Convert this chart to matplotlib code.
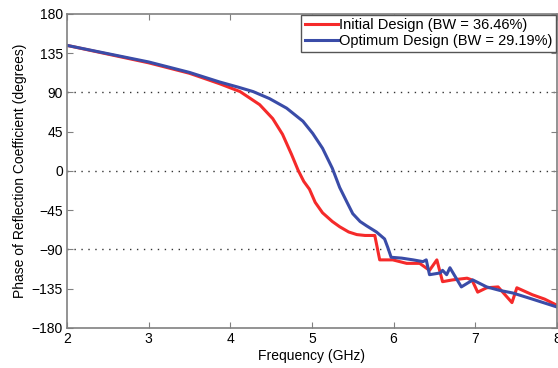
import matplotlib
matplotlib.use("Agg")
import matplotlib.pyplot as plt

plt.rcParams['font.family'] = ['Liberation Sans', 'DejaVu Sans']

# Initial design (red)
freq_init = [2.0, 2.5, 3.0, 3.5, 3.87, 4.12, 4.36, 4.52, 4.64, 4.75, 4.83,
             4.90, 4.97, 5.04, 5.13, 5.25, 5.34, 5.45, 5.55, 5.65, 5.77, 5.80,
             5.83, 5.99, 6.16, 6.32, 6.44, 6.53, 6.60, 6.72, 6.90, 6.96, 7.03,
             7.14, 7.28, 7.45, 7.51, 7.70, 7.85, 8.0]
phase_init = [144, 134, 124, 112, 100, 91, 76, 60, 42, 19, 1,
              -12, -21, -36, -48, -58, -64, -70, -73, -74, -74, -88,
              -102, -102, -106, -106, -114, -102, -127, -125, -123, -125, -139,
              -134, -133, -151, -134, -142, -147, -154]

# Optimum design (blue)
freq_opt = [2.0, 2.5, 3.0, 3.5, 3.87, 4.1, 4.28, 4.48, 4.69, 4.89, 5.01,
            5.13, 5.25, 5.34, 5.43, 5.50, 5.59, 5.67, 5.79, 5.89, 5.93, 5.97,
            6.10, 6.24, 6.36, 6.40, 6.44, 6.57, 6.60, 6.65, 6.69, 6.83, 6.97,
            7.14, 7.30, 7.46, 7.70, 8.0]
phase_opt = [144, 134.5, 125, 113, 102, 96, 91, 83, 72, 57, 43,
             26, 3, -19, -36, -49, -58, -63, -70, -78, -88, -99,
             -100, -102, -104, -102, -119, -117, -114, -119, -111, -133, -125,
             -133, -137, -140, -147, -156]

fig = plt.figure(figsize=(5.58, 3.68), dpi=100)
ax = fig.add_axes([0.120, 0.109, 0.878, 0.853])

ax.plot(freq_init, phase_init, color='#f52a2a', lw=2.2,
        label='Initial Design (BW = 36.46%)')
ax.plot(freq_opt, phase_opt, color='#3a4ca8', lw=2.2,
        label='Optimum Design (BW = 29.19%)')

ax.set_xlim(2, 8)
ax.set_ylim(-180, 180)
ax.set_xticks([2, 3, 4, 5, 6, 7, 8])
ax.set_yticks([-180, -135, -90, -45, 0, 45, 90, 135, 180])

for yv in [-90, 0, 90]:
    ax.axhline(yv, color='#333333', lw=1.0, ls=(0, (1, 4)), zorder=0)

for s in ax.spines.values():
    s.set_color('#808080')
    s.set_linewidth(1.2)
ax.tick_params(direction='in', length=4, color='#808080', labelsize=10,
               top=True, right=True, pad=3)

ax.set_xlabel('Frequency (GHz)', fontsize=10, labelpad=2)
ax.set_ylabel('Phase of Reflection Coefficient (degrees)', fontsize=10, labelpad=3)

leg = ax.legend(loc='upper right', fontsize=10.5, handlelength=2.3,
                handletextpad=0.05, borderpad=0.25, labelspacing=0.12,
                fancybox=False, framealpha=1, borderaxespad=0.05)
leg.get_frame().set_edgecolor('#555555')
leg.get_frame().set_linewidth(1.0)

fig.savefig('out.png', dpi=100)
